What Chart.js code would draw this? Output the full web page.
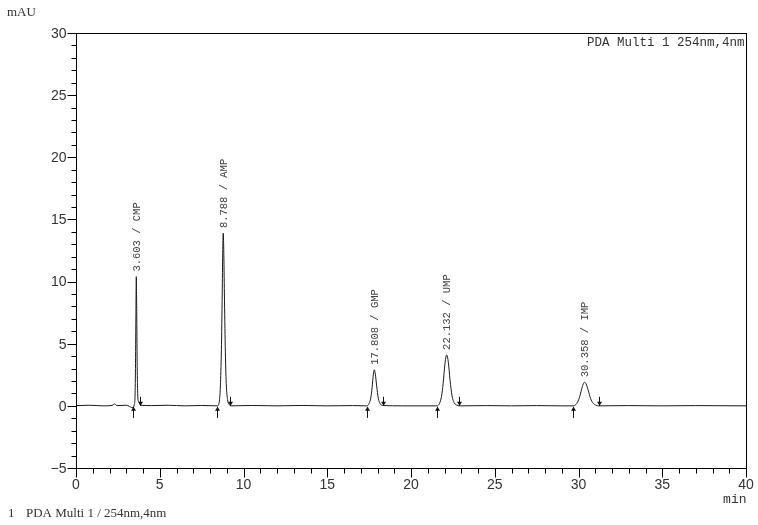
<!DOCTYPE html>
<html>
<head>
<meta charset="utf-8">
<script src="https://cdn.jsdelivr.net/npm/chart.js@4/dist/chart.umd.min.js"></script>
<style>
  html, body { margin: 0; padding: 0; background: #fff; }
  #wrap { width: 758px; height: 525px; }
</style>
</head>
<body>
<div id="wrap"><canvas id="chart" width="758" height="525"></canvas></div>
<script>
// retention time (min) and signal (mAU)
const times = [
  0, 0.8, 1.6, 2.15, 2.3, 2.45, 3.0,
  3.40, 3.48, 3.52, 3.55, 3.575, 3.60, 3.625, 3.65, 3.68, 3.72, 3.78, 3.85,
  4.5, 5.5, 6.5, 7.5,
  8.45, 8.55, 8.62, 8.68, 8.73, 8.76, 8.79, 8.82, 8.86, 8.91, 8.97, 9.05, 9.15, 9.25,
  10.5, 12, 13.5, 15, 16.5,
  17.35, 17.5, 17.6, 17.68, 17.75, 17.81, 17.87, 17.95, 18.05, 18.15, 18.3,
  19.5,
  21.55, 21.7, 21.82, 21.92, 22.02, 22.13, 22.23, 22.33, 22.45, 22.58, 22.75, 22.9,
  24.5, 26, 27.5, 29,
  29.7, 29.9, 30.05, 30.18, 30.28, 30.36, 30.45, 30.58, 30.72, 30.88, 31.05, 31.2,
  33, 35, 37, 40
];
const absorbance = [
  0.02, 0.05, 0.0, 0.03, 0.15, 0.02, 0.05,
  -0.15, 0.1, 0.6, 3.0, 7.0, 10.4, 7.6, 3.6, 1.2, 0.35, 0.3, 0.05,
  0.02, 0.05, 0.0, 0.03,
  0, 0.3, 1.6, 4.5, 9.0, 12.3, 13.9, 12.6, 9.0, 4.8, 1.8, 0.5, 0.1, 0,
  0.03, 0.0, 0.03, 0.0, 0.02,
  0, 0.2, 0.65, 1.5, 2.5, 2.9, 2.55, 1.6, 0.6, 0.2, 0.03,
  0.0,
  0, 0.2, 0.75, 1.8, 3.3, 4.1, 3.5, 2.1, 0.8, 0.25, 0.05, 0,
  0.02, 0, 0.02, 0,
  0, 0.2, 0.65, 1.3, 1.75, 1.9, 1.78, 1.25, 0.6, 0.2, 0.05, 0,
  0.02, 0, 0.02, 0
];

const peakTimes = [3.603, 8.788, 17.808, 22.132, 30.358];
const peakNames = ['CMP', 'AMP', 'GMP', 'UMP', 'IMP'];
const peakHeights = [10.4, 13.9, 2.9, 4.1, 1.9];
const peakStart = [3.40, 8.42, 17.37, 21.55, 29.7];
const peakEnd = [3.82, 9.19, 18.33, 22.87, 31.2];

const xTicks = [0, 5, 10, 15, 20, 25, 30, 35, 40];
const yTicks = [-5, 0, 5, 10, 15, 20, 25, 30];

const points = times.map((t, i) => ({ x: t, y: absorbance[i] }));

const MONO = '"Liberation Mono", "DejaVu Sans Mono", monospace';
const SANS = '"Liberation Sans", Arial, sans-serif';
const SERIF = '"Liberation Serif", "Times New Roman", serif';

// frame, ticks, labels and peak marks, all placed through the chart scales
const chromPlugin = {
  id: 'chrom',
  afterDatasetsDraw(chart) {
    const ctx = chart.ctx;
    const xs = chart.scales.x;
    const ys = chart.scales.y;
    const a = chart.chartArea;
    const L = Math.round(a.left) + 0.5, R = Math.round(a.right) + 0.5;
    const T = Math.round(a.top) + 0.5, B = Math.round(a.bottom) + 0.5;

    ctx.save();
    ctx.strokeStyle = '#000';
    ctx.lineWidth = 1;
    ctx.strokeRect(L, T, R - L, B - T);

    // y ticks (outside, to the left)
    ctx.beginPath();
    for (let v = -5; v <= 30; v++) {
      const py = Math.round(ys.getPixelForValue(v)) + 0.5;
      const len = v % 5 === 0 ? 9 : 5;
      ctx.moveTo(L - len, py);
      ctx.lineTo(L, py);
    }
    // x ticks (outside, below)
    for (let v = 0; v <= 40; v++) {
      const px = Math.round(xs.getPixelForValue(v)) + 0.5;
      const len = v % 5 === 0 ? 9 : 5;
      ctx.moveTo(px, B);
      ctx.lineTo(px, B + len);
    }
    ctx.stroke();

    ctx.fillStyle = '#333';
    ctx.font = '14px ' + SANS;
    ctx.textAlign = 'right';
    ctx.textBaseline = 'middle';
    yTicks.forEach(v => {
      const label = v < 0 ? '\u2212' + Math.abs(v) : String(v);
      ctx.fillText(label, L - 10, ys.getPixelForValue(v) + 1);
    });
    ctx.textAlign = 'center';
    ctx.textBaseline = 'top';
    xTicks.forEach(v => {
      ctx.fillText(String(v), xs.getPixelForValue(v), B + 10);
    });

    // axis units and captions
    ctx.font = '13px ' + MONO;
    ctx.textAlign = 'right';
    ctx.textBaseline = 'alphabetic';
    ctx.fillText('min', R, B + 34);
    ctx.font = '12.5px ' + MONO;
    ctx.fillText('PDA Multi 1 254nm,4nm', R - 2, T + 12);

    ctx.font = '13px ' + SERIF;
    ctx.textAlign = 'left';
    ctx.fillText('mAU', 7, 16);
    ctx.fillText('1', 8, 517);
    ctx.fillText('PDA Multi 1 / 254nm,4nm', 26, 517);

    // peak labels, rotated
    ctx.fillStyle = '#444';
    ctx.font = '10.5px ' + MONO;
    ctx.textAlign = 'left';
    ctx.textBaseline = 'middle';
    peakTimes.forEach((t, i) => {
      const px = xs.getPixelForValue(t) + 1;
      const py = ys.getPixelForValue(peakHeights[i]) - 5;
      ctx.save();
      ctx.translate(px, py);
      ctx.rotate(-Math.PI / 2);
      ctx.fillText(t.toFixed(3) + ' / ' + peakNames[i], 0, 0);
      ctx.restore();
    });

    // integration start / end arrows
    const y0 = ys.getPixelForValue(0);
    ctx.strokeStyle = '#111';
    ctx.fillStyle = '#111';
    const arrow = (px, yTail, yHead) => {
      px = Math.round(px) + 0.5;
      const dir = yHead < yTail ? 1 : -1;
      ctx.beginPath();
      ctx.moveTo(px, yTail);
      ctx.lineTo(px, yHead);
      ctx.stroke();
      ctx.beginPath();
      ctx.moveTo(px, yHead);
      ctx.lineTo(px - 2.5, yHead + dir * 4);
      ctx.lineTo(px + 2.5, yHead + dir * 4);
      ctx.closePath();
      ctx.fill();
    };
    peakStart.forEach(t => arrow(xs.getPixelForValue(t), y0 + 12, y0 + 1));
    peakEnd.forEach(t => arrow(xs.getPixelForValue(t), y0 - 9, y0));
    ctx.restore();
  }
};

new Chart(document.getElementById('chart'), {
  type: 'line',
  data: {
    datasets: [{
      data: points,
      borderColor: '#1a1a1a',
      borderWidth: 1,
      pointRadius: 0,
      fill: false,
      cubicInterpolationMode: 'monotone'
    }]
  },
  options: {
    responsive: false,
    animation: false,
    layout: { padding: { left: 76, right: 12, top: 33, bottom: 57 } },
    plugins: { legend: { display: false }, tooltip: { enabled: false } },
    scales: {
      x: { type: 'linear', min: 0, max: 40, display: false },
      y: { type: 'linear', min: -5, max: 30, display: false }
    }
  },
  plugins: [chromPlugin]
});
</script>
</body>
</html>
